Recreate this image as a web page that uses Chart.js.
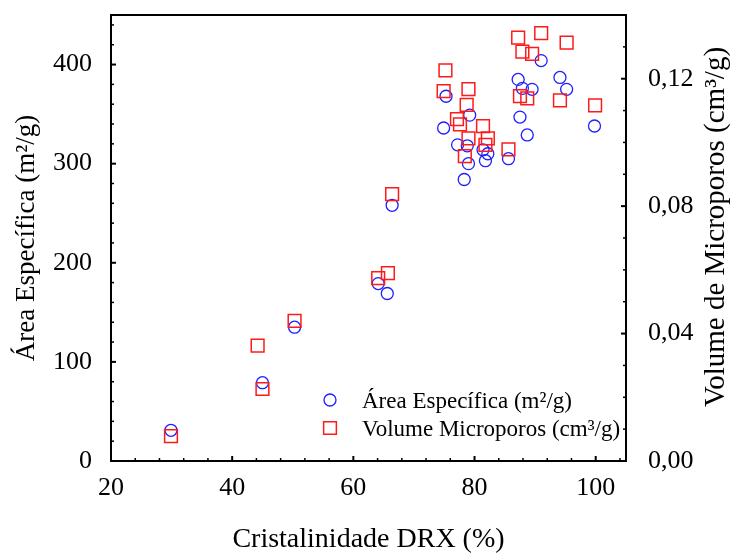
<!DOCTYPE html>
<html>
<head>
<meta charset="utf-8">
<script src="https://cdn.jsdelivr.net/npm/chart.js@4/dist/chart.umd.min.js"></script>
<style>
  html, body { margin: 0; padding: 0; background: #fff; }
  #wrap { width: 738px; height: 553px; }
</style>
</head>
<body>
<div id="wrap"><canvas id="cristChart"></canvas></div>
<script>
// Área específica (m2/g) vs cristalinidade
const areaCryst = [29.9, 45.0, 50.3, 64.1, 65.6, 66.4, 74.9, 75.3, 79.2, 77.2, 78.8, 81.4, 82.2,
  81.8, 79.0, 78.3, 85.6, 87.5, 88.7, 87.2, 87.9, 89.5, 91.0, 94.1, 95.2, 99.8];
const areaValues = [31, 79, 135, 179, 169, 258, 336, 368, 349, 319, 318, 314, 310,
  303, 300, 284, 305, 347, 329, 385, 376, 375, 404, 387, 375, 338];

// Volume de microporos (cm3/g) vs cristalinidade
const volCryst = [29.9, 44.2, 45.0, 50.3, 64.1, 65.7, 66.4, 74.9, 75.2, 77.1, 77.6, 79.0, 78.7, 79.0,
  81.4, 82.2, 81.8, 78.4, 85.6, 87.2, 87.9, 89.5, 91.0, 95.2, 87.5, 88.7, 94.1, 99.9];
const volValues = [0.0078, 0.0362, 0.0226, 0.0440, 0.0574, 0.0590, 0.0838, 0.1161, 0.1226, 0.1073,
  0.1057, 0.1167, 0.1118, 0.1013, 0.1051, 0.1013, 0.0992, 0.0957, 0.0978, 0.1329, 0.1285, 0.1278,
  0.1343, 0.1313, 0.1145, 0.1138, 0.1132, 0.1116];

const xTicks = [20, 40, 60, 80, 100];
const areaTicks = [0, 100, 200, 300, 400];
const volTicks = [0, 0.04, 0.08, 0.12];

const serif = "'Liberation Serif', 'Times New Roman', serif";
const blue = "#1f1fff";
const red = "#ff1a1a";

function toPoints(xs, ys) {
  return xs.map((x, i) => ({ x: x, y: ys[i] }));
}

function setTicks(list) {
  return function (scale) {
    scale.ticks = list.map((v) => ({ value: v }));
  };
}

// frame + inward ticks, like the original plot
const frameTicks = {
  id: "frameTicks",
  afterDraw(chart) {
    const ctx = chart.ctx;
    const a = chart.chartArea;
    const sx = chart.scales.x, sy = chart.scales.y, sv = chart.scales.y2;
    ctx.save();
    ctx.strokeStyle = "#000";
    ctx.lineCap = "butt";

    function tick(x1, y1, x2, y2, w) {
      ctx.lineWidth = w;
      ctx.beginPath();
      ctx.moveTo(x1, y1);
      ctx.lineTo(x2, y2);
      ctx.stroke();
    }

    for (let v = 20; v <= 105; v += 4) {
      const px = sx.getPixelForValue(v);
      const major = v % 20 === 0;
      tick(px, a.bottom, px, a.bottom - (major ? 5 : 3), major ? 2 : 1.5);
    }
    for (let v = 0; v <= 450; v += 20) {
      const py = sy.getPixelForValue(v);
      const major = v % 100 === 0;
      tick(a.left, py, a.left + (major ? 5 : 3), py, major ? 2 : 1.5);
    }
    for (let k = 0; k <= 14; k++) {
      const py = sv.getPixelForValue(k / 100);
      const major = k % 4 === 0;
      tick(a.right, py, a.right - (major ? 5 : 3), py, major ? 2 : 1.5);
    }

    ctx.lineWidth = 2;
    ctx.strokeRect(a.left, a.top, a.right - a.left, a.bottom - a.top);

    // right axis title, reading upwards
    ctx.fillStyle = "#000";
    ctx.font = "29px " + serif;
    ctx.textAlign = "center";
    ctx.textBaseline = "middle";
    ctx.translate(chart.width - 22, (a.top + a.bottom) / 2 - 11);
    ctx.rotate(-Math.PI / 2);
    ctx.fillText("Volume de Microporos (cm³/g)", 0, 0);
    ctx.restore();
  },
};

// legend drawn inside the plot area
const innerLegend = {
  id: "innerLegend",
  afterDraw(chart) {
    const ctx = chart.ctx;
    const a = chart.chartArea;
    const mx = a.left + 219;
    const rows = [a.bottom - 61, a.bottom - 33];
    ctx.save();
    ctx.font = "23px " + serif;
    ctx.textBaseline = "middle";
    chart.data.datasets.forEach((ds, i) => {
      ctx.fillStyle = "rgba(0,0,0,0)";
      ctx.strokeStyle = ds.borderColor;
      ctx.lineWidth = ds.borderWidth;
      Chart.helpers.drawPoint(ctx, { pointStyle: ds.pointStyle, radius: ds.pointRadius, borderWidth: ds.borderWidth }, mx, rows[i]);
      ctx.fillStyle = "#000";
      ctx.fillText(ds.label, mx + 32, rows[i] + 2);
    });
    ctx.restore();
  },
};

const ctx = document.getElementById("cristChart").getContext("2d");
new Chart(ctx, {
  type: "scatter",
  data: {
    datasets: [
      {
        label: "Área Específica (m²/g)",
        data: toPoints(areaCryst, areaValues),
        yAxisID: "y",
        pointStyle: "circle",
        pointRadius: 6,
        borderWidth: 1.3,
        borderColor: blue,
        backgroundColor: "rgba(0,0,0,0)",
        order: 2,
      },
      {
        label: "Volume Microporos (cm³/g)",
        data: toPoints(volCryst, volValues),
        yAxisID: "y2",
        pointStyle: "rect",
        pointRadius: 9,
        borderWidth: 1.5,
        borderColor: red,
        backgroundColor: "rgba(0,0,0,0)",
        order: 1,
      },
    ],
  },
  options: {
    responsive: true,
    maintainAspectRatio: false,
    animation: false,
    layout: { padding: { top: 15, left: 0, right: 0, bottom: 0 } },
    plugins: {
      legend: { display: false },
      tooltip: { enabled: false },
    },
    scales: {
      x: {
        type: "linear",
        min: 20,
        max: 105,
        afterBuildTicks: setTicks(xTicks),
        afterFit: (s) => { s.height = 92; s.paddingLeft = 0; s.paddingRight = 0; },
        grid: { display: false },
        border: { display: false },
        ticks: { color: "#000", padding: 4, maxRotation: 0, font: { family: serif, size: 26 } },
        title: {
          display: true,
          text: "Cristalinidade DRX (%)",
          color: "#000",
          padding: { top: 0, bottom: -3 },
          font: { family: serif, size: 28 },
        },
      },
      y: {
        type: "linear",
        position: "left",
        min: 0,
        max: 450,
        afterBuildTicks: setTicks(areaTicks),
        afterFit: (s) => { s.width = 111; s.paddingTop = 0; s.paddingBottom = 0; },
        grid: { display: false },
        border: { display: false },
        ticks: { color: "#000", padding: 11, font: { family: serif, size: 26 } },
        title: {
          display: true,
          text: "Área Específica (m²/g)",
          color: "#000",
          padding: { top: 11, bottom: 0 },
          font: { family: serif, size: 27 },
        },
      },
      y2: {
        type: "linear",
        position: "right",
        min: 0,
        max: 0.14,
        afterBuildTicks: setTicks(volTicks),
        afterFit: (s) => { s.width = 112; s.paddingTop = 0; s.paddingBottom = 0; },
        grid: { display: false },
        border: { display: false },
        ticks: {
          color: "#000",
          padding: 14,
          font: { family: serif, size: 26 },
          callback: (v) => v.toFixed(2).replace(".", ","),
        },
      },
    },
  },
  plugins: [frameTicks, innerLegend],
});
</script>
</body>
</html>
